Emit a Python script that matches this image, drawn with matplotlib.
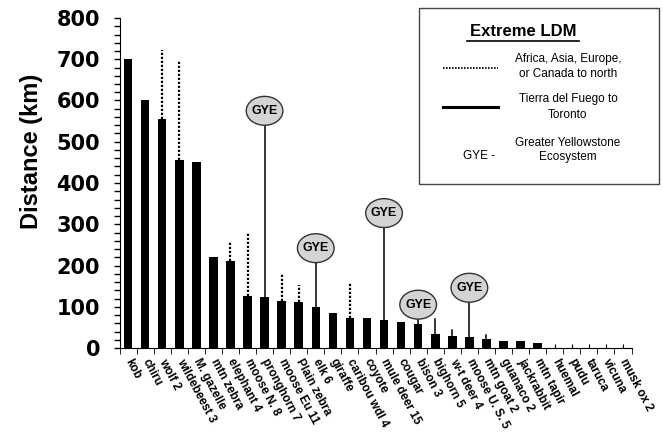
import matplotlib.pyplot as plt
from matplotlib.patches import Ellipse, Rectangle
from matplotlib.lines import Line2D
from matplotlib.ticker import MultipleLocator

plt.rcParams['font.family'] = ['Liberation Sans', 'DejaVu Sans']

species = ["kob", "chiru", "wolf 2", "wildebeest 3", "M. gazelle", "mtn zebra",
           "elephant 4", "moose N. 8", "pronghorn 7", "moose Eu 11", "Plain zebra",
           "elk 6", "giraffe", "caribou wdl 4", "coyote", "mule deer 15", "cougar",
           "bison 3", "bighorn 5", "w-t deer 4", "moose U. S. 5", "mtn goat 2",
           "guanaco 2", "jackrabbit", "mtn tapir", "huemal", "pudu", "taruca",
           "vicuna", "musk ox 2"]
distance = [700, 600, 555, 455, 450, 220, 211, 126, 123, 113, 112, 100, 84, 72,
            72, 68, 62, 57, 33, 30, 26, 22, 16, 16, 11, 0, 0, 0, 0, 0]

# extreme LDM, Africa/Asia/Europe/Canada (dotted)
dotted_species = ["wolf 2", "wildebeest 3", "elephant 4", "moose N. 8",
                  "moose Eu 11", "Plain zebra", "caribou wdl 4"]
dotted_max = [722, 698, 256, 278, 179, 153, 161]

# extreme LDM, Tierra del Fuego to Toronto (solid)
solid_species = ["bighorn 5", "w-t deer 4", "mtn goat 2"]
solid_max = [71, 44, 32]

# Greater Yellowstone Ecosystem markers
gye_species = ["pronghorn 7", "elk 6", "mule deer 15", "bison 3", "moose U. S. 5"]
gye_level = [575, 242, 327, 105, 146]

W, H = 663, 433
fig = plt.figure(figsize=(W / 100, H / 100), dpi=100)
ax = fig.add_axes([119.5 / W, 1 - 348 / H, 512 / W, 330 / H])

x = list(range(len(species)))
ax.bar(x, distance, width=0.5, color='black', zorder=3)

for name, top in zip(dotted_species, dotted_max):
    i = species.index(name)
    ax.plot([i, i], [distance[i], top], color='black', linestyle=(0, (1, 0.8)),
            linewidth=1.6, zorder=2)

for name, top in zip(solid_species, solid_max):
    i = species.index(name)
    ax.plot([i, i], [distance[i], top], color='black', linewidth=1.1, zorder=2)

ew, eh = 2.15, 70
for name, lev in zip(gye_species, gye_level):
    i = species.index(name)
    ax.plot([i, i], [distance[i], lev - eh / 2], color='black', linewidth=1.1, zorder=2)
    ax.add_patch(Ellipse((i, lev), ew, eh, facecolor='#d4d4d4', edgecolor='#333333',
                         linewidth=1.0, zorder=4))
    ax.text(i, lev, "GYE", ha='center', va='center', fontsize=9, fontweight='bold',
            zorder=5)

ax.set_xlim(-0.5, len(species) - 0.5)
ax.set_ylim(0, 800)
ax.yaxis.set_major_locator(MultipleLocator(100))
ax.yaxis.set_minor_locator(MultipleLocator(20))
ax.tick_params(axis='y', which='both', direction='out', length=4, width=1)
ax.tick_params(axis='y', which='major', pad=10)
ax.set_yticks(range(0, 801, 100))
ax.set_yticklabels([str(v) for v in range(0, 801, 100)], fontsize=15,
                   fontweight='bold', family='DejaVu Sans')

ax.set_xticks(x)
ax.set_xticklabels(species, rotation=-62, ha='left', va='center',
                   rotation_mode='anchor', fontsize=8.5, fontweight='bold')
ax.set_xticks([i - 0.5 for i in range(len(species) + 1)], minor=True)
ax.tick_params(axis='x', which='major', direction='in', length=3, pad=8)
ax.tick_params(axis='x', which='minor', direction='out', length=4)

ax.set_ylabel("Distance (km)", fontsize=17, fontweight='bold')
ax.yaxis.set_label_coords(-0.15, 0.597)
for s in ['top', 'right']:
    ax.spines[s].set_visible(False)


def fx(px):
    return px / W


def fy(py):
    return 1 - py / H


# legend box
fig.add_artist(Rectangle((fx(419), fy(184)), fx(659) - fx(419), fy(8) - fy(184),
                         transform=fig.transFigure, facecolor='white',
                         edgecolor='#444444', linewidth=1.0))
fig.text(fx(523), fy(32), "Extreme LDM", ha='center', va='center', fontsize=12,
         fontweight='bold')
fig.add_artist(Line2D([fx(467), fx(579)], [fy(41), fy(41)], transform=fig.transFigure,
                      color='black', linewidth=1.2))
fig.add_artist(Line2D([fx(443), fx(498)], [fy(68), fy(68)], transform=fig.transFigure,
                      color='black', linestyle=(0, (1, 0.8)), linewidth=1.2))
fig.text(fx(568), fy(66.5), "Africa, Asia, Europe,\nor Canada to north", ha='center',
         va='center', fontsize=8.5, linespacing=1.25)
fig.add_artist(Line2D([fx(443), fx(498)], [fy(107), fy(107)], transform=fig.transFigure,
                      color='black', linewidth=2.2))
fig.text(fx(568), fy(107), "Tierra del Fuego to\nToronto", ha='center', va='center',
         fontsize=8.5, linespacing=1.35)
fig.text(fx(479), fy(156), "GYE -", ha='center', va='center', fontsize=8.5)
fig.text(fx(568), fy(150), "Greater Yellowstone\nEcosystem", ha='center', va='center',
         fontsize=8.5, linespacing=1.25)

fig.savefig("out.png", dpi=100)
